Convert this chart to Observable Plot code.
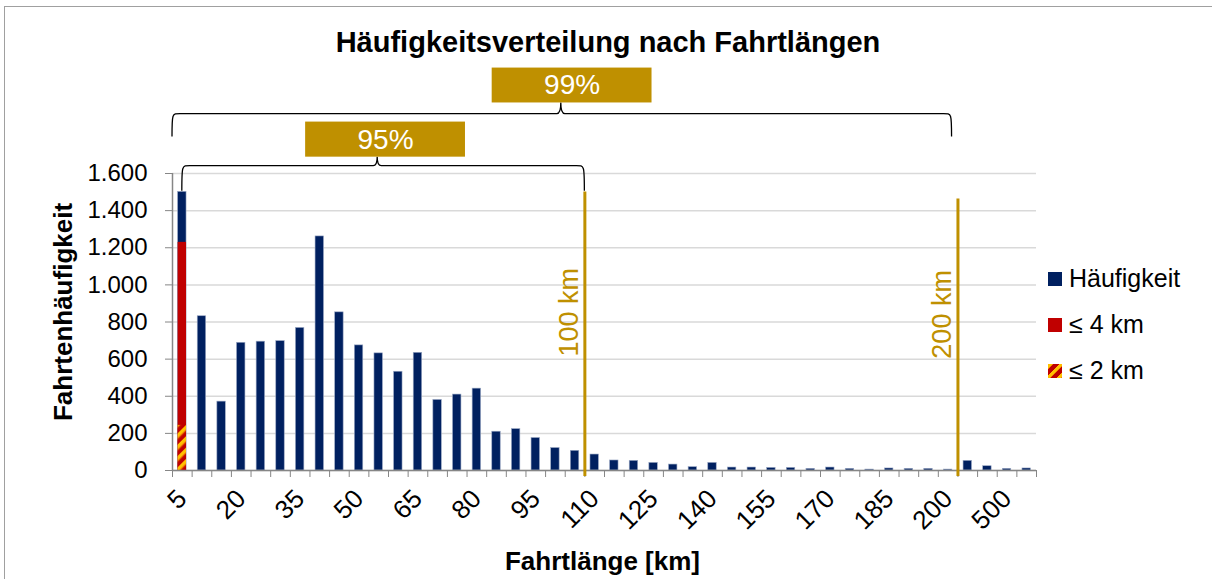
<!DOCTYPE html>
<html><head><meta charset="utf-8">
<script src="https://cdn.jsdelivr.net/npm/d3@7"></script>
<script src="https://cdn.jsdelivr.net/npm/@observablehq/plot@0.6"></script>
<style>
body{margin:0;background:#fff;font-family:Arial,"Liberation Sans",sans-serif;}
#wrap{position:relative;width:1212px;height:579px;overflow:hidden;background:#fff;}
#chart{position:absolute;left:0;top:0;}
.abs{position:absolute;white-space:nowrap;color:#000;}
#frame{position:absolute;left:4px;top:6px;width:1400px;height:800px;border-left:1.5px solid #a0a0a0;border-top:1.5px solid #a0a0a0;}
#title{left:2px;width:1212px;top:28px;text-align:center;font-weight:bold;font-size:29px;line-height:29px;}
#xtitle{left:0;width:1205px;top:548px;text-align:center;font-weight:bold;font-size:26px;line-height:26px;}
#ytitle{left:63px;top:312px;transform:translate(-50%,-50%) rotate(-90deg);font-weight:bold;font-size:26px;line-height:26px;}
.leg{position:absolute;left:1048px;font-size:25px;line-height:25px;display:flex;align-items:center;}
.sw{width:14px;height:14px;margin-right:7px;}
</style></head><body>
<svg width="0" height="0" style="position:absolute">
  <defs>
    <pattern id="hatch" patternUnits="userSpaceOnUse" width="8" height="8" patternTransform="rotate(45)">
      <rect width="8" height="8" fill="#C00000"/>
      <rect x="0" width="3" height="8" fill="#FFC000"/>
      <rect x="3" width="1.2" height="8" fill="#F08000"/>
    </pattern>
  </defs>
</svg>
<div id="wrap">
  <div id="chart"></div>
  <div id="frame"></div>
  <div id="title" class="abs">Häufigkeitsverteilung nach Fahrtlängen</div>
  <div id="xtitle" class="abs">Fahrtlänge [km]</div>
  <div id="ytitle" class="abs">Fahrtenhäufigkeit</div>
  <div class="leg" style="top:266px"><div class="sw" style="background:#002060"></div>Häufigkeit</div>
  <div class="leg" style="top:312px"><div class="sw" style="background:#C00000"></div>≤ 4 km</div>
  <div class="leg" style="top:358px"><div class="sw" style="background:repeating-linear-gradient(135deg,#FFC000 0 3px,#F08000 3px 4px,#C00000 4px 8px)"></div>≤ 2 km</div>
</div>
<script>
// Categories (trip length classes, km)
const categories = ["5","10","15","20","25","30","35","40","45","50","55","60","65","70","75","80","85","90","95","100",
  "105","110","115","120","125","130","135","140","145","150","155","160","165","170","175","180","185","190","195","200",
  "300","400","500","1000"];
// Frequency per class
const haeufigkeit = [1501, 831, 371, 688, 694, 697, 768, 1261, 852, 674, 631, 532, 634, 380, 409, 441, 209, 223, 175, 121,
  106, 86, 54, 52, 41, 32, 18, 41, 16, 16, 14, 14, 9, 16, 9, 5, 11, 9, 9, 5,
  52, 23, 9, 11];
// Sub-portions within the first class
const bis4kmCats = ["5"];
const bis4km = [1229];
const bis2kmCats = ["5"];
const bis2km = [243];
// Tick labels
const yTicks = [0, 200, 400, 600, 800, 1000, 1200, 1400, 1600];
const xTickLabels = ["5","20","35","50","65","80","95","110","125","140","155","170","185","200","500"];
// Reference lines (placed after the given class)
const refLabels = ["100 km", "200 km"];
const refAfter = ["105", "200"];
const refTop = [1500, 1462];
const refLabelY = [852, 841];
// Percentage braces
const braceLabels = ["95%", "99%"];

const navy = "#002060", red = "#C00000", gold = "#BF9000";
const deFmt = d3.formatLocale({decimal: ",", thousands: ".", grouping: [3], currency: ["", "€"]}).format(",");

const idx = c => categories.indexOf(c);
const bars = categories.map((c, i) => ({i, cat: c, value: haeufigkeit[i]}));
const redBars = bis4kmCats.map((c, k) => ({i: idx(c), value: bis4km[k]}));
const hatchBars = bis2kmCats.map((c, k) => ({i: idx(c), value: bis2km[k]}));
const refs = refLabels.map((l, k) => ({label: l, x: idx(refAfter[k]) + 1, top: refTop[k], ly: refLabelY[k]}));
const braces = [
  {label: braceLabels[0], start: 0.5, end: idx("105") + 1, tipX: 10.45, boxX: 10.85, level: 1640, foot: 1505, tip: 1688, boxTop: 1877},
  {label: braceLabels[1], start: 0, end: 39.7, tipX: 19.8, boxX: 20.35, level: 1920, foot: 1796, tip: 1980, boxTop: 2168}
];
const boxHalf = 4.07;

function braceMark(index, scales) {
  const g = d3.create("svg:g");
  for (const b of braces) {
    const x1 = scales.x(b.start), x2 = scales.x(b.end), xm = scales.x(b.tipX);
    const yl = scales.y(b.level), yf = scales.y(b.foot), yt = scales.y(b.tip);
    const r = 8;
    const p = `M${x1},${yf} C${x1},${yl} ${x1},${yl} ${x1 + r},${yl} L${xm - 4},${yl} Q${xm},${yl} ${xm},${yt} Q${xm},${yl} ${xm + 4},${yl} L${x2 - r},${yl} C${x2},${yl} ${x2},${yl} ${x2},${yf}`;
    g.append("path").attr("d", p).attr("fill", "none").attr("stroke", "#000").attr("stroke-width", 1.3);
  }
  return g.node();
}

const chart = Plot.plot({
  width: 1212, height: 579,
  marginLeft: 172, marginRight: 176, marginTop: 173, marginBottom: 109,
  x: {type: "linear", domain: [0, categories.length], axis: null},
  y: {domain: [0, 1600], axis: null},
  style: {fontFamily: 'Arial, "Liberation Sans", sans-serif', color: "#000", background: "transparent", overflow: "visible"},
  marks: [
    Plot.gridY(yTicks, {stroke: "#d9d9d9", strokeOpacity: 1, strokeWidth: 1.5}),
    Plot.rectY(bars, {x1: "i", x2: d => d.i + 1, y: "value", fill: navy, stroke: "#9aa8c4", strokeWidth: 0.6, insetLeft: 5.6, insetRight: 5.6}),
    Plot.rectY(redBars, {x1: "i", x2: d => d.i + 1, y: "value", fill: red, insetLeft: 5.6, insetRight: 5.6}),
    Plot.rectY(hatchBars, {x1: "i", x2: d => d.i + 1, y: "value", fill: "url(#hatch)", insetLeft: 5.6, insetRight: 5.6}),
    Plot.ruleY([0], {stroke: "#868686", strokeWidth: 1.5}),
    Plot.ruleX([0], {y1: 0, y2: 1600, stroke: "#868686", strokeWidth: 1.5}),
    Plot.axisY(yTicks, {tickSize: 7, tickPadding: 18, tickFormat: deFmt, stroke: "#868686", fill: "#000", fontSize: 24}),
    Plot.axisX(d3.range(categories.length + 1), {tickSize: 7, tickFormat: () => "", stroke: "#868686"}),
    Plot.axisX(xTickLabels.map(l => idx(l) + 0.5), {tickSize: 0, tickPadding: 24, tickRotate: -45, tickFormat: v => categories[Math.floor(v)], fill: "#000", fontSize: 26}),
    Plot.ruleX(refs, {x: "x", y1: -32, y2: "top", stroke: gold, strokeWidth: 3}),
    Plot.text(refs, {x: "x", y: "ly", text: "label", rotate: -90, dx: -16, fill: gold, fontSize: 27}),
    braceMark,
    Plot.rect(braces, {x1: d => d.boxX - boxHalf, x2: d => d.boxX + boxHalf, y1: "tip", y2: "boxTop", fill: gold}),
    Plot.text(braces, {x: "boxX", y: d => (d.tip + d.boxTop) / 2, text: "label", fill: "white", fontSize: 28})
  ]
});
document.getElementById("chart").appendChild(chart);
</script>
</body></html>
